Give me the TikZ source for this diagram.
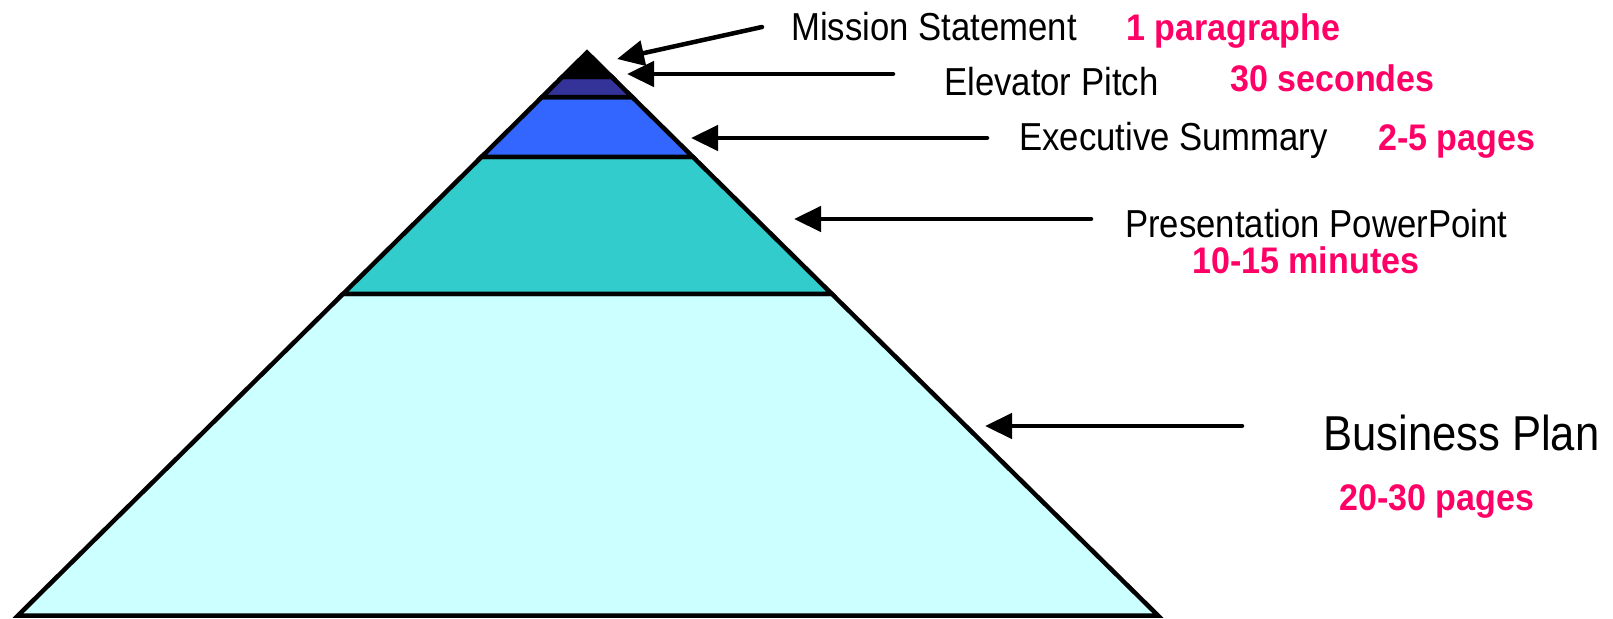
\documentclass[tikz,border=0pt]{standalone}
\usepackage{fontspec}
\setmainfont{Liberation Sans}
\newfontfamily\labelfont{Liberation Sans}[FakeStretch=0.89]
\newfontfamily\countfont{Liberation Sans}[FakeStretch=0.92]
\usetikzlibrary{calc,arrows.meta}

\definecolor{tiernavy}{HTML}{333399}
\definecolor{tierblue}{HTML}{3366FF}
\definecolor{tierteal}{HTML}{33CCCC}
\definecolor{tierlight}{HTML}{CCFFFF}
\definecolor{countpink}{HTML}{FF0066}

\tikzset{
  tier/.style={draw=black, line width=4.5pt, line join=miter},
  lbl/.style={inner sep=0pt, anchor=base west, text=black,
    font=\labelfont\fontsize{39}{44}\selectfont},
  lblbig/.style={lbl, font=\labelfont\fontsize{49}{54}\selectfont},
  cnt/.style={inner sep=0pt, anchor=base west, text=countpink,
    font=\countfont\bfseries\fontsize{37}{41}\selectfont},
  pointer/.style={line width=4.5pt, line cap=round,
    -{Triangle[length=27pt,width=25pt]}}
}

\begin{document}
\begin{tikzpicture}[x=1pt,y=-1pt]
\useasboundingbox (0,0) rectangle (1613,618);

% pyramid outline
\coordinate (apex) at (587,52.5);
\coordinate (bl) at (18,615.5);
\coordinate (br) at (1158,615.5);
\foreach \n/\h in {a/77,b/97,c/157,d/294}{
  \coordinate (L\n) at ($(apex)!{(\h-52.5)/563}!(bl)$);
  \coordinate (R\n) at ($(apex)!{(\h-52.5)/563}!(br)$);
}

% tiers, bottom to top
\draw[tier, fill=tierlight] (Ld) -- (Rd) -- (br) -- (bl) -- cycle;
\draw[tier, fill=tierteal] (Lc) -- (Rc) -- (Rd) -- (Ld) -- cycle;
\draw[tier, fill=tierblue] (Lb) -- (Rb) -- (Rc) -- (Lc) -- cycle;
\draw[tier, fill=tiernavy] (La) -- (Ra) -- (Rb) -- (Lb) -- cycle;
\draw[tier, fill=black] (apex) -- (Ra) -- (La) -- cycle;

% labels
\node[lbl] (ms) at (791,41) {Mission Statement};
\node[cnt] (msn) at (1126,41) {1 paragraphe};
\node[lbl] (ep) at (944,95) {Elevator Pitch};
\node[cnt] (epn) at (1230,92) {30 secondes};
\node[lbl] (es) at (1019,150) {Executive Summary};
\node[cnt] (esn) at (1378,150) {2-5 pages};
\node[lbl] (pp) at (1125,237) {Presentation PowerPoint};
\node[cnt] (ppn) at (1192,273) {10-15 minutes};
\node[lblbig] (bp) at (1323,450) {Business Plan};
\node[cnt] (bpn) at (1339,510) {20-30 pages};

% arrow ends
\coordinate (msT) at (762,27);   \coordinate (msH) at (617,59);
\coordinate (epT) at (893,74);   \coordinate (epH) at (627,74);
\coordinate (esT) at (987,138);  \coordinate (esH) at (691,138);
\coordinate (ppT) at (1091,219); \coordinate (ppH) at (794,219);
\coordinate (bpT) at (1242,426); \coordinate (bpH) at (985,426);

\draw[pointer] (msT) -- (msH);
\draw[pointer] (epT) -- (epH);
\draw[pointer] (esT) -- (esH);
\draw[pointer] (ppT) -- (ppH);
\draw[pointer] (bpT) -- (bpH);
\end{tikzpicture}
\end{document}
